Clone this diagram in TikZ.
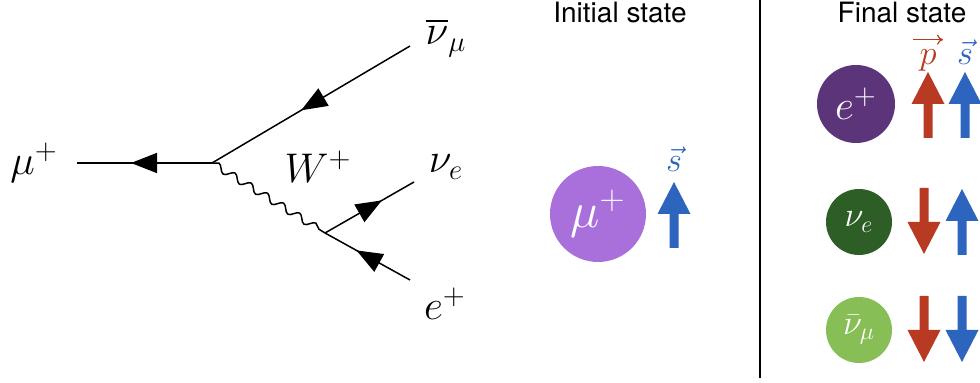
\documentclass[tikz,border=0pt]{standalone}
\usepackage{amsmath}
\usepackage{fontspec}
\setsansfont{TeX Gyre Heros}
\usepackage{tikz}
\usetikzlibrary{arrows.meta,decorations.pathmorphing,decorations.markings}
\definecolor{mulight}{HTML}{A970DB}
\definecolor{epurple}{HTML}{5C3479}
\definecolor{nuegreen}{HTML}{2C5E26}
\definecolor{numugreen}{HTML}{87BE56}
\definecolor{spinred}{HTML}{B83A23}
\definecolor{spinblue}{HTML}{2C64BE}

\begin{document}
\begin{tikzpicture}[x=0.5pt,y=-0.5pt,
  fermion/.style={line width=0.75pt,postaction={decorate},
    decoration={markings,mark=at position #1 with {\arrow{Triangle[length=13pt,width=10pt]}}}},
  boson/.style={line width=0.75pt,decorate,
    decoration={snake,segment length=9.5pt,amplitude=1.8pt}},
  feynlab/.style={anchor=base,font=\fontsize{20}{24}\selectfont},
  heading/.style={anchor=base,inner sep=0pt,font=\sffamily\fontsize{14}{17}\selectfont},
  particle/.style={circle,inner sep=0pt,text=white},
  veclab/.style={anchor=base,inner sep=0pt,font=\fontsize{17}{20}\selectfont},
  spinup/.pic={\fill (-4.5,0) -- (-4.5,-34) -- (-16.5,-34) -- (0,-66)
    -- (16.5,-34) -- (4.5,-34) -- (4.5,0) -- cycle;}]
  \useasboundingbox (0,0) rectangle (980,383);

  % Feynman diagram
  \coordinate (vmu) at (212,163);
  \coordinate (vw) at (325,233);
  \coordinate (muend) at (77,163);
  \coordinate (numuend) at (410,46);
  \coordinate (nueend) at (414,182);
  \coordinate (eend) at (410,280);
  \draw[fermion=0.6] (vmu) -- (muend);
  \draw[fermion=0.55] (numuend) -- (vmu);
  \draw[fermion=0.64] (vw) -- (nueend);
  \draw[fermion=0.63] (eend) -- (vw);
  \draw[boson] (vmu) -- (vw);
  \node[feynlab] (mulab) at (34,175) {$\mu^+$};
  \node[feynlab] (wlab) at (318,183) {$W^+$};
  \node[feynlab] (numulab) at (446,45) {$\overline{\nu}_\mu$};
  \node[feynlab] (nuelab) at (446,173) {$\nu_e$};
  \node[feynlab] (elab) at (445,320) {$e^+$};

  % states
  \node[heading] (initial) at (620,23) {Initial state};
  \node[heading] (final) at (902,23) {Final state};
  \draw[line width=1pt] (760,0) -- (760,378);

  \node[particle,fill=mulight,minimum size=48pt,font=\fontsize{26}{30}\selectfont]
    (muplus) at (598,214) {$\mu^+$};
  \pic[fill=spinblue] at (674,248) {spinup};
  \node[veclab,text=spinblue] (mus) at (674,172) {$\vec{s}$};

  \node[particle,fill=epurple,minimum size=39pt,font=\fontsize{22}{26}\selectfont]
    (eplus) at (856,104) {$e^+$};
  \node[particle,fill=nuegreen,minimum size=33pt,font=\fontsize{18}{22}\selectfont]
    (nue) at (859,222) {$\nu_e$};
  \node[particle,fill=numugreen,minimum size=33pt,font=\fontsize{18}{22}\selectfont]
    (numubar) at (859,330) {$\bar{\nu}_\mu$};
  \node[veclab,text=spinred] (plab) at (928,65) {$p$};
  \draw[spinred,line width=0.6pt,-{To[length=3pt,width=5pt]}]
    ([xshift=-7.5pt,yshift=5pt]plab.north) -- ([xshift=7.5pt,yshift=5pt]plab.north);
  \node[veclab,text=spinblue] (slab) at (965,65) {$\vec{s}$};

  \pic[fill=spinred] at (928,138) {spinup};
  \pic[fill=spinblue] at (965,138) {spinup};
  \pic[fill=spinred,rotate=180] at (924,188) {spinup};
  \pic[fill=spinblue] at (962,255) {spinup};
  \pic[fill=spinred,rotate=180] at (924,296) {spinup};
  \pic[fill=spinblue,rotate=180] at (962,296) {spinup};
\end{tikzpicture}
\end{document}
